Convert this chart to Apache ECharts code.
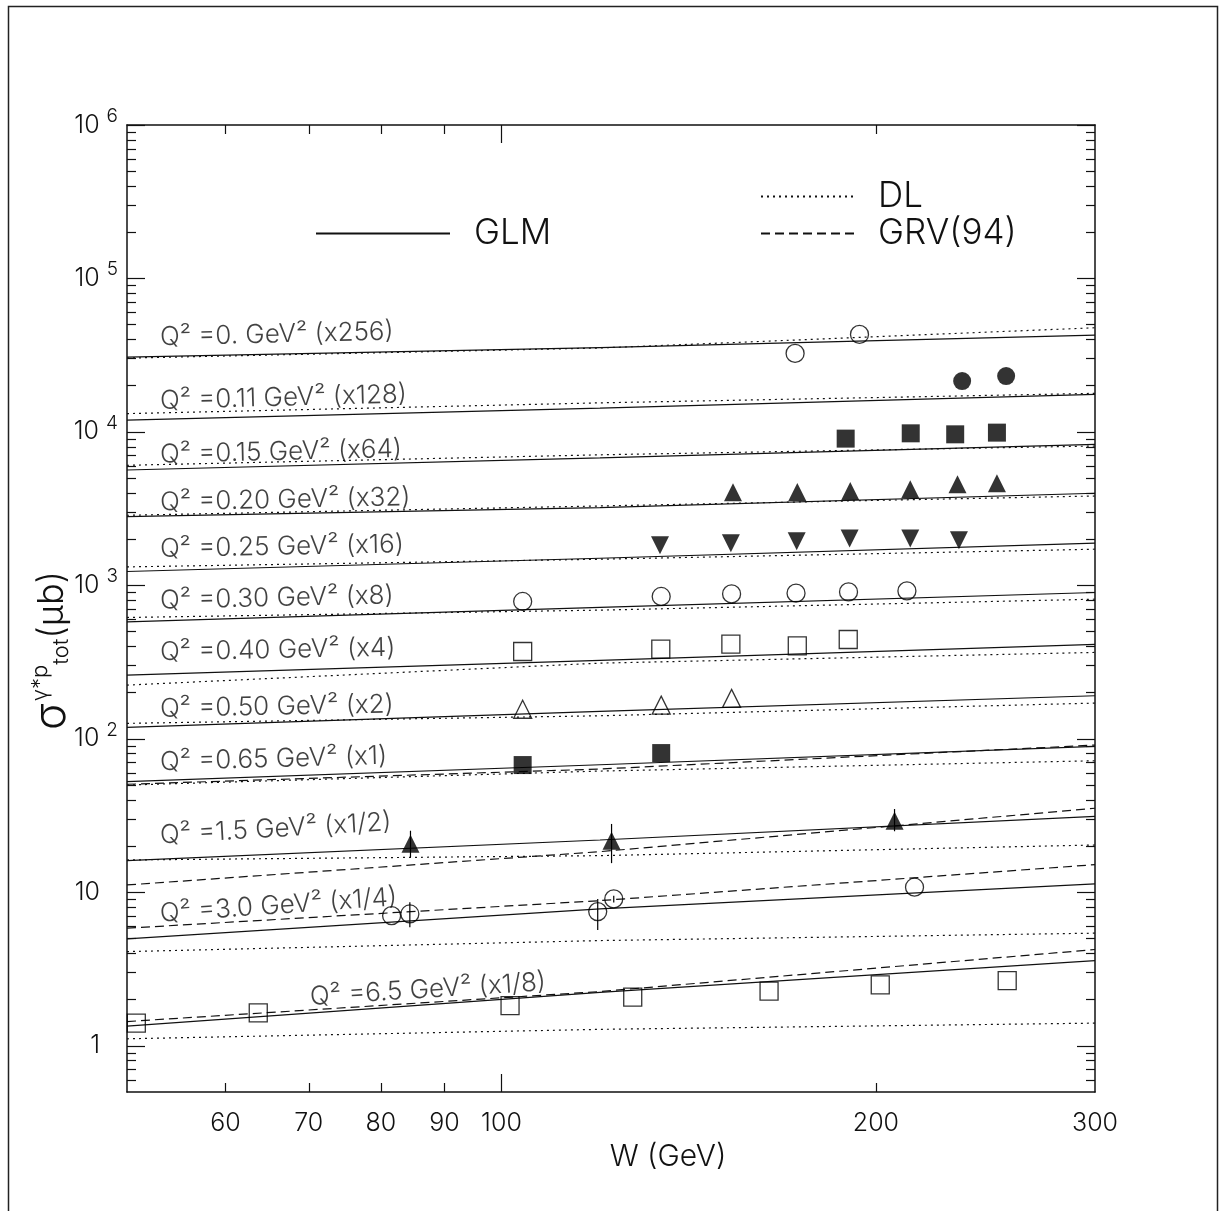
<!DOCTYPE html>
<html>
<head>
<meta charset="utf-8">
<script src="https://cdn.jsdelivr.net/npm/echarts@6/dist/echarts.min.js"></script>
<style>
html,body{margin:0;padding:0;background:#fff;}
#c{width:1221px;height:1211px;}
</style>
</head>
<body>
<div id="c"></div>
<script>
// ---------------- axis ranges & ticks ----------------
const X_MIN = 50, X_MAX = 300;
const Y_MIN = 0.5, Y_MAX = 1e6;
const X_LABELS = [60, 70, 80, 90, 100, 200, 300];
const X_MINOR_TICKS = [60, 70, 80, 90, 200];
const X_MAJOR_TICKS = [100];
const Y_MAJOR_TICKS = [1, 10, 100, 1000, 10000, 100000, 1000000];
const Y_MINOR_TICKS = [0.6, 0.7, 0.8, 0.9,
  2, 3, 4, 5, 6, 7, 8, 9,
  20, 30, 40, 50, 60, 70, 80, 90,
  200, 300, 400, 500, 600, 700, 800, 900,
  2000, 3000, 4000, 5000, 6000, 7000, 8000, 9000,
  20000, 30000, 40000, 50000, 60000, 70000, 80000, 90000,
  200000, 300000, 400000, 500000, 600000, 700000, 800000, 900000];

// ---------------- Q^2 bins ----------------
const Q2_TEXT = [
  'Q² =0. GeV² (x256)', 'Q² =0.11 GeV² (x128)', 'Q² =0.15 GeV² (x64)',
  'Q² =0.20 GeV² (x32)', 'Q² =0.25 GeV² (x16)', 'Q² =0.30 GeV² (x8)',
  'Q² =0.40 GeV² (x4)', 'Q² =0.50 GeV² (x2)', 'Q² =0.65 GeV² (x1)',
  'Q² =1.5 GeV² (x1/2)', 'Q² =3.0 GeV² (x1/4)', 'Q² =6.5 GeV² (x1/8)'
];

// ---------------- model curves (W in GeV, sigma in mub, scaled) ----------------
const W_LINE = [50, 120, 300];
const GLM_Q0   = [30730, 35440, 42750];
const GLM_Q011 = [11950, 14290, 17570];
const GLM_Q015 = [5649, 6772, 8305];
const GLM_Q020 = [2810, 3215, 3984];
const GLM_Q025 = [1232, 1503, 1883];
const GLM_Q030 = [578.6, 718.1, 899.0];
const GLM_Q040 = [260.3, 324.4, 412.3];
const GLM_Q050 = [118.8, 151.0, 190.9];
const GLM_Q065 = [52.6, 67.8, 89.4];
const GLM_Q15  = [16.08, 21.93, 31.3];
const GLM_Q30  = [4.97, 7.80, 11.34];
const GLM_Q65  = [1.344, 2.23, 3.59];

const DL_Q0   = [30280, 35230, 47750];
const DL_Q011 = [13160, 15470, 17840];
const DL_Q015 = [6062, 7095, 8096];
const DL_Q020 = [2864, 3293, 3825];
const DL_Q025 = [1320, 1481, 1721];
const DL_Q030 = [618, 690, 813];
const DL_Q040 = [224, 311.5, 365.8];
const DL_Q050 = [126.2, 141.4, 171.1];
const DL_Q065 = [50.0, 61.7, 72.0];
const DL_Q15  = [16.25, 17.34, 20.35];
const DL_Q30  = [4.11, 4.85, 5.42];
const DL_Q65  = [1.111, 1.28, 1.405];

const GRV_Q065 = [50.6, 63.6, 91.1];
const GRV_Q15  = [11.17, 18.41, 35.3];
const GRV_Q30  = [5.84, 8.83, 15.15];
const GRV_Q65  = [1.439, 2.257, 4.24];

// ---------------- data points ----------------
const W_Q0 = [172.2, 194.0];                         const S_Q0 = [32490, 43190];
const W_Q011 = [234.6, 254.5];                       const S_Q011 = [21450, 23110];
const W_Q015 = [189.1, 213.3, 231.6, 250.2];         const S_Q015 = [9045, 9793, 9647, 9895];
const W_Q020 = [153.5, 172.9, 190.7, 213.1, 232.6, 250.2]; const S_Q020 = [4045, 4063, 4124, 4229, 4559, 4628];
const W_Q025 = [134.1, 152.9, 172.7, 190.5, 213.1, 233.2]; const S_Q025 = [1827, 1883, 1940, 2020, 2020, 1969];
const W_Q030 = [104.0, 134.4, 153.1, 172.5, 190.1, 211.8]; const S_Q030 = [786, 847, 880, 890, 907, 921];
const W_Q040 = [104.0, 134.3, 152.9, 172.9, 190.0];  const S_Q040 = [371, 384, 414, 404, 444];
const W_Q050 = [104.0, 134.4, 153.1];                const S_Q050 = [156, 166, 183.5];
const W_Q065 = [104.0, 134.4];                       const S_Q065 = [67.5, 80.8];
const W_Q15 = [84.5, 122.6, 207.0];                  const S_Q15 = [20.7, 21.7, 29.3];
const LO_Q15 = [16.9, 15.5, 25.0];                   const HI_Q15 = [25.2, 27.9, 34.9];
const W_Q30 = [81.6, 84.4, 119.5, 123.1, 214.8];     const S_Q30 = [7.05, 7.23, 7.49, 9.06, 10.8];
const LO_Q30 = [null, 5.93, 5.69, 8.6, null];        const HI_Q30 = [null, 8.62, 9.06, 9.5, null];
const W_Q65 = [50.87, 63.75, 101.6, 127.5, 164.1, 201.6, 255.0];
const S_Q65 = [1.405, 1.64, 1.829, 2.075, 2.271, 2.495, 2.661];

// ---------------- annotation anchors (W, sigma) for Q^2 texts ----------------
const LABEL_W = [53.1, 53.1, 53.1, 53.1, 53.1, 53.1, 53.1, 53.1, 53.1, 53.1, 53.1, 70.1];
const LABEL_S = [41290, 15890, 7074, 3465, 1721, 792.6, 365.8, 156.3, 70.3, 23.39, 7.23, 2.075];
const LABEL_ROT = [1.4, 1.5, 1.4, 1.2, 1.1, 1.3, 1.1, 1.1, 1.6, 3.3, 4.0, 3.6];

// ---------------- assembly ----------------
const GLM = [GLM_Q0, GLM_Q011, GLM_Q015, GLM_Q020, GLM_Q025, GLM_Q030, GLM_Q040, GLM_Q050, GLM_Q065, GLM_Q15, GLM_Q30, GLM_Q65];
const DL = [DL_Q0, DL_Q011, DL_Q015, DL_Q020, DL_Q025, DL_Q030, DL_Q040, DL_Q050, DL_Q065, DL_Q15, DL_Q30, DL_Q65];
const GRV = [GRV_Q065, GRV_Q15, GRV_Q30, GRV_Q65];
const PTS_W = [W_Q0, W_Q011, W_Q015, W_Q020, W_Q025, W_Q030, W_Q040, W_Q050, W_Q065, W_Q15, W_Q30, W_Q65];
const PTS_S = [S_Q0, S_Q011, S_Q015, S_Q020, S_Q025, S_Q030, S_Q040, S_Q050, S_Q065, S_Q15, S_Q30, S_Q65];
const MARK_SYMBOL = ['circle', 'circle', 'rect', 'triangle', 'triangle', 'circle', 'rect', 'triangle', 'rect', 'triangle', 'circle', 'rect'];
const MARK_FILLED = [false, true, true, true, true, false, false, false, true, true, false, false];
const MARK_ROT = [0, 0, 0, 0, 180, 0, 0, 0, 0, 0, 0, 0];

const INK = '#111';
const FONT = 'Inter, "Open Sans", "DejaVu Sans", sans-serif';
const FW = 300;
const DOT = [2, 4];
const DASH = [9, 5];

function baseAxis(extra) {
  return Object.assign({
    type: 'log', logBase: 10, gridIndex: 0,
    splitLine: { show: false }, minorTick: { show: false }, minorSplitLine: { show: false },
    axisLine: { show: false }, axisLabel: { show: false }, axisTick: { show: false },
    axisPointer: { show: false }, nameMoveOverlap: false
  }, extra);
}
const tickStyle = { color: INK, width: 1.2 };
const lineAx = { show: true, onZero: false, lineStyle: { color: INK, width: 1.5 } };

const xAxis = [
  baseAxis({
    position: 'bottom', min: X_MIN, max: X_MAX, axisLine: lineAx,
    axisTick: { show: true, inside: true, length: 9, customValues: X_MINOR_TICKS, lineStyle: tickStyle },
    axisLabel: { show: true, customValues: X_LABELS, margin: 19, color: INK, fontSize: 25, fontFamily: FONT, fontWeight: FW },
    name: 'W (GeV)', nameLocation: 'middle', nameGap: 50,
    nameTextStyle: { color: INK, fontSize: 30, fontFamily: FONT, fontWeight: FW, padding: [0, 0, 0, 114] }
  }),
  baseAxis({ position: 'bottom', min: X_MIN, max: X_MAX,
    axisTick: { show: true, inside: true, length: 18, customValues: X_MAJOR_TICKS, lineStyle: tickStyle } }),
  baseAxis({ position: 'top', min: X_MIN, max: X_MAX, axisLine: lineAx,
    axisTick: { show: true, inside: true, length: 9, customValues: X_MINOR_TICKS, lineStyle: tickStyle } }),
  baseAxis({ position: 'top', min: X_MIN, max: X_MAX,
    axisTick: { show: true, inside: true, length: 18, customValues: X_MAJOR_TICKS, lineStyle: tickStyle } })
];

const yAxis = [
  baseAxis({
    position: 'left', min: Y_MIN, max: Y_MAX, axisLine: lineAx,
    axisTick: { show: true, inside: true, length: 18, customValues: Y_MAJOR_TICKS, lineStyle: tickStyle },
    axisLabel: {
      show: true, customValues: Y_MAJOR_TICKS, margin: 9, color: INK, fontSize: 25, fontFamily: FONT, fontWeight: FW,
      formatter: function (v) {
        const e = Math.round(Math.log10(v));
        if (e === 0) return '1{pad| }';
        if (e === 1) return '10{pad| }';
        return '10{sup|' + e + '}';
      },
      rich: {
        sup: { fontSize: 19, padding: [0, 0, 18, 7], color: INK, fontFamily: FONT, fontWeight: FW },
        pad: { width: 18, fontSize: 19 }
      }
    },
    name: '{s|σ}{sup|γ*p}{sub|tot}{n|(μb)}', nameLocation: 'middle', nameGap: 52, nameRotate: 90,
    nameTextStyle: {
      color: INK, fontFamily: FONT, fontWeight: FW, fontSize: 36, padding: [0, 84, 0, 0],
      rich: {
        s: { fontSize: 44 },
        sup: { fontSize: 22, padding: [0, 0, 24, 2] },
        sub: { fontSize: 22, padding: [18, 0, 0, 0] },
        n: { fontSize: 36 }
      }
    }
  }),
  baseAxis({ position: 'left', min: Y_MIN, max: Y_MAX,
    axisTick: { show: true, inside: true, length: 9, customValues: Y_MINOR_TICKS, lineStyle: tickStyle } }),
  baseAxis({ position: 'right', min: Y_MIN, max: Y_MAX, axisLine: lineAx,
    axisTick: { show: true, inside: true, length: 18, customValues: Y_MAJOR_TICKS, lineStyle: tickStyle } }),
  baseAxis({ position: 'right', min: Y_MIN, max: Y_MAX,
    axisTick: { show: true, inside: true, length: 9, customValues: Y_MINOR_TICKS, lineStyle: tickStyle } })
];

const series = [];
function curve(name, vals, type) {
  series.push({
    name: name, type: 'line', xAxisIndex: 0, yAxisIndex: 0, silent: true,
    symbol: 'none', smooth: false, z: 2,
    lineStyle: { color: INK, width: 1.2, type: type },
    itemStyle: { color: INK },
    data: W_LINE.map(function (w, i) { return [w, vals[i]]; })
  });
}
GLM.forEach(function (v) { curve('GLM', v, 'solid'); });
DL.forEach(function (v) { curve('DL', v, DOT); });
GRV.forEach(function (v) { curve('GRV(94)', v, DASH); });

PTS_W.forEach(function (ws, k) {
  series.push({
    type: 'scatter', xAxisIndex: 0, yAxisIndex: 0, silent: true, z: 4,
    symbol: MARK_SYMBOL[k], symbolSize: 18, symbolRotate: MARK_ROT[k],
    itemStyle: MARK_FILLED[k]
      ? { color: '#000' }
      : { color: 'rgba(0,0,0,0)', borderColor: '#000', borderWidth: 1.3 },
    data: ws.map(function (w, i) { return [w, PTS_S[k][i]]; })
  });
});

// error bars
function errRows(ws, lo, hi) {
  const rows = [];
  ws.forEach(function (w, i) { if (lo[i] != null) rows.push([w, lo[i], hi[i]]); });
  return rows;
}
series.push({
  type: 'custom', xAxisIndex: 0, yAxisIndex: 0, silent: true, z: 3,
  encode: { x: 0, y: [1, 2] },
  data: errRows(W_Q15, LO_Q15, HI_Q15).concat(errRows(W_Q30, LO_Q30, HI_Q30)),
  renderItem: function (params, api) {
    const a = api.coord([api.value(0), api.value(1)]);
    const b = api.coord([api.value(0), api.value(2)]);
    return { type: 'line', shape: { x1: a[0], y1: a[1], x2: b[0], y2: b[1] },
      style: { stroke: '#000', lineWidth: 1.2 } };
  }
});

// Q^2 annotation texts
const QFS = 26;
series.push({
  type: 'scatter', xAxisIndex: 0, yAxisIndex: 0, silent: true, z: 5,
  symbolSize: 1, itemStyle: { color: 'rgba(0,0,0,0)' },
  label: { show: true, position: 'right', distance: 0, color: INK, fontSize: QFS, fontFamily: FONT, fontWeight: FW },
  data: Q2_TEXT.map(function (t, k) {
    return { value: [LABEL_W[k], LABEL_S[k]],
      label: { show: true, formatter: t, rotate: LABEL_ROT[k], align: 'left', verticalAlign: 'middle',
        color: INK, fontSize: QFS, fontFamily: FONT, fontWeight: FW } };
  })
});

const legendText = { color: INK, fontSize: 35, fontFamily: FONT, fontWeight: FW, padding: [0, 0, 0, 19] };
const legendCommon = { selectedMode: false, itemHeight: 4, itemStyle: { opacity: 0, borderWidth: 0 }, textStyle: legendText };
const option = {
  animation: false,
  backgroundColor: '#fff',
  grid: { left: 127, right: 126, top: 125, bottom: 119, containLabel: false, outerBoundsMode: 'none' },
  xAxis: xAxis,
  yAxis: yAxis,
  legend: [
    Object.assign({ data: ['GLM'], left: 310, top: 211, itemWidth: 134 }, legendCommon),
    Object.assign({ data: ['DL'], left: 755, top: 174, itemWidth: 93 }, legendCommon),
    Object.assign({ data: ['GRV(94)'], left: 755, top: 211, itemWidth: 93 }, legendCommon)
  ],
  graphic: [
    { type: 'rect', left: 6, top: 4, silent: true, z: 0,
      shape: { width: 1209, height: 1260 }, style: { fill: 'none', stroke: '#222', lineWidth: 1.5 } }
  ],
  series: series
};

const chart = echarts.init(document.getElementById('c'), null, { renderer: 'canvas', width: 1221, height: 1211 });
chart.setOption(option);
</script>
</body>
</html>
